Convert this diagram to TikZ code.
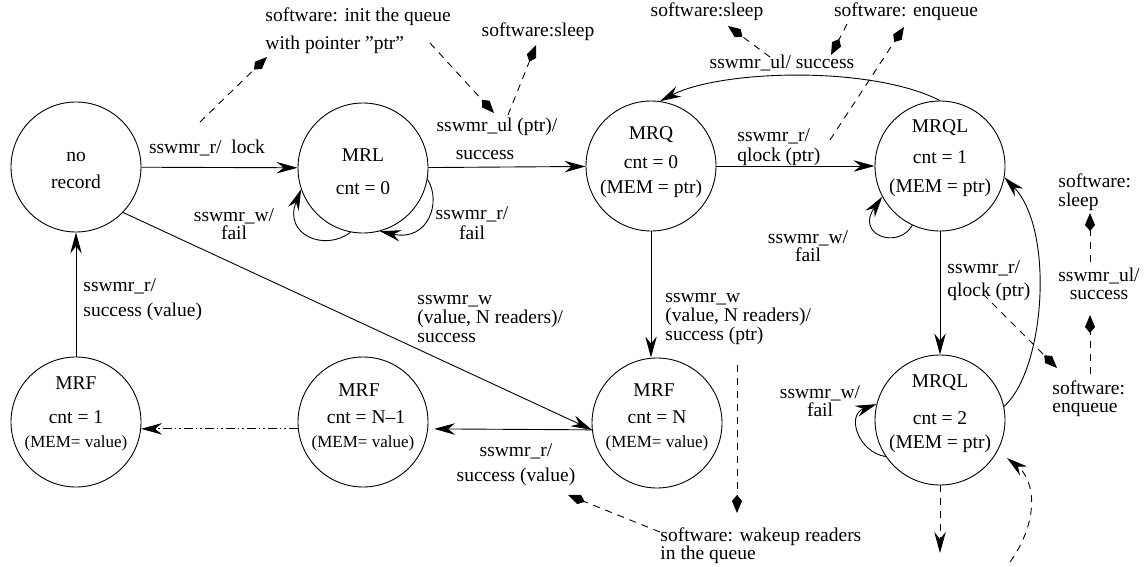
\documentclass[tikz,border=0pt]{standalone}
\usepackage{fontspec}
\setmainfont{Liberation Serif}
\usetikzlibrary{arrows.meta}
\begin{document}
\begin{tikzpicture}[x=1pt,y=-1pt,
  line width=0.9pt,
  every node/.style={font=\fontsize{19.5}{23}\selectfont, inner sep=0pt},
  >={Stealth[length=21pt,width=11.5pt,inset=7pt]},
  state/.style={draw, circle, minimum size=130pt},
  small/.style={font=\fontsize{17}{20}\selectfont},
  twoline/.style={align=center, font=\fontsize{19.5}{18}\selectfont},
  dsh/.style={dash pattern=on 7pt off 6pt},
  note/.style={dsh, -{Kite[length=18pt,width=10pt,inset=6pt]}},
  dashdotdot/.style={dash pattern=on 9pt off 3pt on 1.5pt off 3pt on 1.5pt off 3pt}
]
\useasboundingbox (0,0) rectangle (1145,567);

% states
\node[state] (nr)    at (76,167)  {};
\node[state] (MRL)   at (363,168) {};
\node[state] (MRQ)   at (651,166) {};
\node[state] (MRQLa) at (940,166) {};
\node[state] (MRFa)  at (76,422)  {};
\node[state] (MRFb)  at (363,422) {};
\node[state] (MRFn)  at (657,423) {};
\node[state] (MRQLb) at (940,420) {};

% state contents
\node (nrA) at (76,157) {no};
\node (nrB) at (76,182) {record};
\node (mrlA) at (363,155) {MRL};
\node (mrlB) at (363,188) {cnt = 0};
\node (mrqA) at (651,135) {MRQ};
\node (mrqB) at (651,162) {cnt = 0};
\node (mrqC) at (651,189) {(MEM = ptr)};
\node (qlaA) at (940,128) {MRQL};
\node (qlaB) at (940,157) {cnt = 1};
\node (qlaC) at (940,188) {(MEM = ptr)};
\node (qlbA) at (940,383) {MRQL};
\node (qlbB) at (940,418) {cnt = 2};
\node (qlbC) at (940,444) {(MEM = ptr)};
\node (mfaA) at (76,383) {MRF};
\node (mfaB) at (76,417) {cnt = 1};
\node[small] (mfaC) at (76,443) {(MEM= value)};
\node (mfbA) at (359,390) {MRF};
\node (mfbB) at (366,417) {cnt = N\textendash1};
\node[small] (mfbC) at (363,443) {(MEM= value)};
\node (mfnA) at (654,390) {MRF};
\node (mfnB) at (657,417) {cnt = N};
\node[small] (mfnC) at (657,443) {(MEM= value)};

% transitions
\draw[->] (nr) -- (MRL);
\draw[->] (MRL) -- (MRQ);
\draw[->] (MRQ) -- (MRQLa);
\draw[->] (MRQ.south) -- (MRQ.south |- MRFn.north);
\draw[->] (MRQLa) -- (MRQLb);
\draw[->] (MRFa) -- (nr);
\draw[->] (nr.-44) -- (MRFn.186);
\draw[->, shorten >=6pt] (MRFn.186) -- (MRFb.-6);
\draw[->, dashdotdot] (MRFb.186) -- (MRFa.-6);

% self loops
\draw[->] (MRL.-101) .. controls (325,252) and (283,235) .. (MRL.-161);
\draw[->] (MRL.-10) .. controls (442,202) and (428,242) .. (MRL.-75);
\draw[->] (MRQLa.-115) .. controls (898,250) and (855,235) .. (MRQLa.-152);
\draw[->] (MRQLb.-146) .. controls (858,452) and (846,415) .. (MRQLb.166);

% curved transitions
\draw[->] (MRQLa.north) .. controls (870,65) and (720,70) .. (MRQ.82);
\draw[->] (MRQLb.12) .. controls (1045,370) and (1055,230) .. (MRQLa.-10);

% transition labels
\node (l1) at (207,148) {sswmr\_r/\ \ lock};
\node (l2a) at (497,127) {sswmr\_ul (ptr)/};
\node (l2b) at (485,155) {success};
\node[align=left, anchor=west, font=\fontsize{19.5}{20}\selectfont] (l3) at (737,147) {sswmr\_r/\\qlock (ptr)};
\node (l4) at (782,63) {sswmr\_ul/ success};
\node[twoline] (l5) at (234,224) {sswmr\_w/\\fail};
\node[twoline, font=\fontsize{19.5}{20}\selectfont] (l6) at (472,223) {sswmr\_r/\\fail};
\node[twoline] (l7) at (808,246) {sswmr\_w/\\fail};
\node[twoline] (l8) at (820,401) {sswmr\_w/\\fail};
\node[align=left, anchor=west, font=\fontsize{19.5}{23}\selectfont] (l9) at (947,281) {sswmr\_r/\\qlock (ptr)};
\node[align=left, anchor=west, font=\fontsize{19.5}{25}\selectfont] (l10) at (83,300) {sswmr\_r/\\success (value)};
\node[align=left, anchor=west, font=\fontsize{19.5}{19}\selectfont] (l11) at (417,319) {sswmr\_w\\(value, N readers)/\\success};
\node[align=left, anchor=west, font=\fontsize{19.5}{19}\selectfont] (l12) at (665,319) {sswmr\_w\\(value, N readers)/\\success (ptr)};
\node[align=center, font=\fontsize{19.5}{25}\selectfont] (l13) at (516,465) {sswmr\_r/\\success (value)};
\node[twoline] (l14) at (1099,284) {sswmr\_ul/\\success};

% software notes
\node[align=left, anchor=west, font=\fontsize{19.5}{28}\selectfont] (s1) at (265,31) {software: init the queue\\with pointer \symbol{34}ptr\symbol{34}};
\node (s2) at (538,32) {software:sleep};
\node (s3) at (707,12) {software:sleep};
\node (s4) at (906,12) {software: enqueue};
\node[align=left, anchor=west, font=\fontsize{19.5}{19}\selectfont] (s5) at (1058,192) {software:\\sleep};
\node[align=left, anchor=west, font=\fontsize{19.5}{18}\selectfont] (s6) at (1052,399) {software:\\enqueue};
\node[align=left, anchor=west, font=\fontsize{19.5}{18}\selectfont] (s7) at (660,546) {software: wakeup readers\\in the queue};

% note pointers
\coordinate (pa0) at (200,122);  \coordinate (pa1) at (267,57);
\coordinate (pb0) at (430,43);   \coordinate (pb1) at (494,113);
\coordinate (pc0) at (508,115);  \coordinate (pc1) at (536,45);
\coordinate (pd0) at (770,57);   \coordinate (pd1) at (728,26);
\coordinate (pe0) at (847,24);   \coordinate (pe1) at (831,55);
\coordinate (pf0) at (830,140);  \coordinate (pf1) at (904,27);
\coordinate (pg0) at (983,294);  \coordinate (pg1) at (1057,368);
\coordinate (ph0) at (1090,262); \coordinate (ph1) at (1090,213);
\coordinate (pi0) at (1090,374); \coordinate (pi1) at (1090,315);
\coordinate (pj0) at (737,365);  \coordinate (pj1) at (737,513);
\coordinate (pk0) at (660,532);  \coordinate (pk1) at (568,495);
\draw[note] (pa0) -- (pa1);
\draw[note] (pb0) -- (pb1);
\draw[note] (pc0) -- (pc1);
\draw[note] (pd0) -- (pd1);
\draw[note] (pe0) -- (pe1);
\draw[note] (pf0) -- (pf1);
\draw[note] (pg0) -- (pg1);
\draw[note] (ph0) -- (ph1);
\draw[note] (pi0) -- (pi1);
\draw[note] (pj0) -- (pj1);
\draw[note] (pk0) -- (pk1);

% dashed arrows below the second MRQL state
\coordinate (qdown) at (940,553);
\coordinate (qup0) at (1010,562);
\coordinate (qup1) at (1007,458);
\draw[dsh, ->] (MRQLb) -- (qdown);
\draw[dsh, ->] (qup0) .. controls (1040,520) and (1035,480) .. (qup1);
\end{tikzpicture}
\end{document}
